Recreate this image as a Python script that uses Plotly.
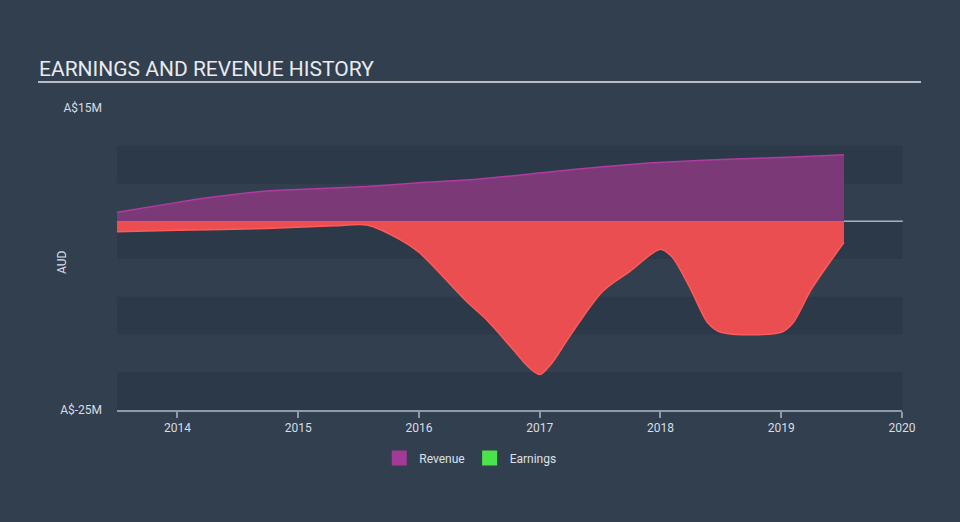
import plotly.graph_objects as go

# ---- data (decimal years, AUD millions) ----
rev_x = [2013.5, 2014.0, 2014.2, 2014.74, 2015.0, 2015.57, 2016.0, 2016.5, 2017.06, 2017.5, 2017.9, 2018.4, 2018.73, 2019.1, 2019.52]
rev_y = [1.2, 2.5, 3.0, 4.0, 4.2, 4.6, 5.1, 5.6, 6.5, 7.2, 7.7, 8.1, 8.3, 8.5, 8.8]

earn_x = [2013.5, 2014.0, 2014.74, 2015.3, 2015.57, 2015.84, 2016.0, 2016.4, 2016.57, 2016.78, 2016.9, 2017.0, 2017.1, 2017.25,
          2017.52, 2017.75, 2018.0, 2018.1, 2018.25, 2018.39, 2018.5, 2019.0, 2019.1, 2019.25, 2019.52]
earn_y = [-1.4, -1.2, -0.95, -0.6, -0.5, -2.4, -4.1, -10.7, -13.2, -17.0, -19.2, -20.3, -18.8, -15.2,
          -9.3, -6.6, -3.7, -4.8, -9.0, -13.4, -14.7, -14.7, -13.4, -9.0, -2.8]

y_ticks = [-25, 15]
y_tick_text = ["A$-25M", "A$15M"]
x_ticks = [2014, 2015, 2016, 2017, 2018, 2019, 2020]
band_ranges = [(5, 10), (-5, 0), (-15, -10), (-25, -20)]

BG = "#323f4f"
BAND = "#2c3948"
FONT = "Roboto, Arial, sans-serif"

fig = go.Figure()

fig.add_trace(go.Scatter(
    x=rev_x, y=rev_y, mode="lines", fill="tozeroy",
    line=dict(color="#b23aa0", width=1.5, shape="spline", smoothing=0.6),
    fillcolor="#7b3a77", showlegend=False, hoverinfo="skip"))

fig.add_trace(go.Scatter(
    x=earn_x, y=earn_y, mode="lines", fill="tozeroy",
    line=dict(color="#ff5a5a", width=1.5, shape="spline", smoothing=0.8),
    fillcolor="#ea4e50", showlegend=False, hoverinfo="skip"))

# legend entries
fig.add_trace(go.Scatter(x=[None], y=[None], mode="markers", name="Revenue",
                         marker=dict(symbol="square", size=15, color="#a33a98")))
fig.add_trace(go.Scatter(x=[None], y=[None], mode="markers", name="Earnings",
                         marker=dict(symbol="square", size=15, color="#4be34b")))

shapes = []
for lo, hi in band_ranges:
    shapes.append(dict(type="rect", xref="paper", yref="y", x0=0, x1=1.001, y0=lo, y1=hi,
                       fillcolor=BAND, line=dict(width=0), layer="below"))
# zero line
shapes.append(dict(type="line", xref="paper", yref="y", x0=0, x1=1.001, y0=0, y1=0,
                   line=dict(color="#a9b0b8", width=1.5), layer="below"))
# title underline
shapes.append(dict(type="line", xref="paper", yref="paper", x0=(38 - 117) / 785, x1=(921 - 117) / 785,
                   y0=(410 - 82) / 302, y1=(410 - 82) / 302, line=dict(color="#b8bdc3", width=2)))

fig.update_layout(
    width=960, height=522,
    margin=dict(l=117, r=58, t=108, b=112),
    paper_bgcolor=BG, plot_bgcolor=BG,
    font=dict(family=FONT, color="#d9dde2", size=12),
    shapes=shapes,
    showlegend=True,
    legend=dict(orientation="h", x=0.45, xanchor="center", y=-0.159, yanchor="middle",
                font=dict(size=12, color="#dde1e5"), bgcolor="rgba(0,0,0,0)", itemwidth=30),
    annotations=[
        dict(text="EARNINGS AND REVENUE HISTORY", xref="paper", yref="paper",
             x=(37 - 117) / 785, y=(410 - 69) / 302, xanchor="left", yanchor="middle",
             showarrow=False, font=dict(size=21, color="#e8eaed", family=FONT)),
        dict(text="AUD", xref="paper", yref="paper", x=(62 - 117) / 785, y=(410 - 262) / 302,
             xanchor="center", yanchor="middle", textangle=-90, showarrow=False,
             font=dict(size=12, color="#d9dde2", family=FONT)),
    ],
)

fig.update_xaxes(range=[2013.5, 2020.0], tickvals=x_ticks, ticktext=[str(v) for v in x_ticks],
                 showgrid=False, zeroline=False, showline=True, linecolor="#8f9aa6", linewidth=1.5,
                 ticks="outside", ticklen=6, tickcolor="#8f9aa6", tickwidth=1.5,
                 tickfont=dict(size=12, color="#d9dde2"))
fig.update_yaxes(range=[-25, 15], tickvals=y_ticks, ticktext=y_tick_text, showgrid=False,
                 zeroline=False, showline=False, ticks="", ticklabelstandoff=14,
                 tickfont=dict(size=12, color="#d9dde2"))

fig.write_html("out.html", config={"displayModeBar": False},
               post_script="document.body.style.margin='0';document.body.style.background='%s';" % BG)
